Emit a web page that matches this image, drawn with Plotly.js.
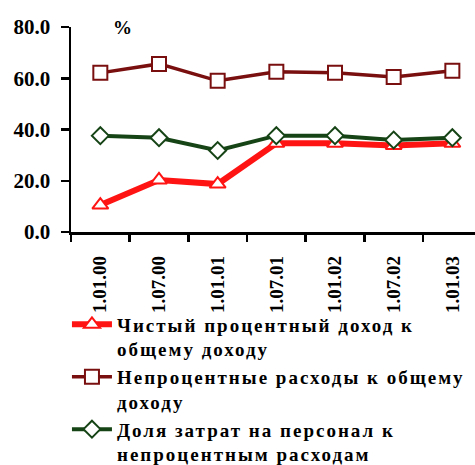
<!DOCTYPE html>
<html><head><meta charset="utf-8">
<script src="https://cdn.plot.ly/plotly-3.0.1.min.js"></script>
<style>
body{margin:0;padding:0;background:#fff}
#chart{width:475px;height:465px}
.legendtext{letter-spacing:2px}
</style>
</head><body>
<div id="chart"></div>
<script>
const categories = ['1.01.00','1.07.00','1.01.01','1.07.01','1.01.02','1.07.02','1.01.03'];
const netInterest = [10.5, 20.3, 18.7, 34.6, 34.6, 33.8, 34.6];
const nonInterestExp = [62.1, 65.6, 59.0, 62.5, 62.1, 60.5, 62.9];
const staffShare = [37.6, 36.8, 31.8, 37.6, 37.6, 35.9, 36.8];
const names = [
  'Чистый процентный доход к<br>общему доходу',
  'Непроцентные расходы к общему<br>доходу',
  'Доля затрат на персонал к<br>непроцентным расходам'
];
const F = 'serif';
const traces = [
  {x: categories, y: netInterest, name: names[0], type: 'scatter', mode: 'lines+markers',
   line: {color: '#ff1414', width: 6},
   marker: {symbol: 'triangle-up', size: 14, color: '#ffffff', line: {color: '#ff1414', width: 2}}},
  {x: categories, y: nonInterestExp, name: names[1], type: 'scatter', mode: 'lines+markers',
   line: {color: '#7a0f0f', width: 3.5},
   marker: {symbol: 'square', size: 14, color: '#ffffff', line: {color: '#7a0f0f', width: 2}}},
  {x: categories, y: staffShare, name: names[2], type: 'scatter', mode: 'lines+markers',
   line: {color: '#164416', width: 4},
   marker: {symbol: 'diamond', size: 13, color: '#ffffff', line: {color: '#164416', width: 2}}}
];
const layout = {
  width: 475, height: 465,
  margin: {l: 71, r: 0, t: 27, b: 233},
  paper_bgcolor: '#fff', plot_bgcolor: '#fff',
  showlegend: true,
  legend: {xref: 'paper', yref: 'container', x: -0.01, y: 0.343, xanchor: 'left', yanchor: 'top',
    orientation: 'v', valign: 'top', itemwidth: 40,
    font: {family: F, size: 19, color: '#000', weight: 'bold'}, tracegroupgap: 0,
    bgcolor: 'rgba(0,0,0,0)'},
  xaxis: {type: 'category', range: [-0.5, 6.386], showline: true, linecolor: '#000', linewidth: 2.5,
    ticks: 'outside', tickson: 'boundaries', ticklen: 7, tickwidth: 2.5, tickcolor: '#000',
    tickangle: -90, ticklabelstandoff: 14, showgrid: false, zeroline: false,
    tickfont: {family: F, size: 19, color: '#000', weight: 'bold'}},
  yaxis: {range: [0, 80], dtick: 20, tickformat: '.1f', showline: true, linecolor: '#000', linewidth: 2.5,
    ticks: 'outside', ticklen: 8, tickwidth: 2.5, tickcolor: '#000', showgrid: false, zeroline: false,
    ticklabelstandoff: 6,
    tickfont: {family: F, size: 21, color: '#000', weight: 'bold'}},
  annotations: [{text: '%', xref: 'paper', yref: 'paper', x: 0.1, y: 1.0, xanchor: 'left', yanchor: 'middle',
    showarrow: false, font: {family: F, size: 19, color: '#000', weight: 'bold'}}]
};
Plotly.newPlot('chart', traces, layout, {displayModeBar: false, staticPlot: true});
</script></body></html>
